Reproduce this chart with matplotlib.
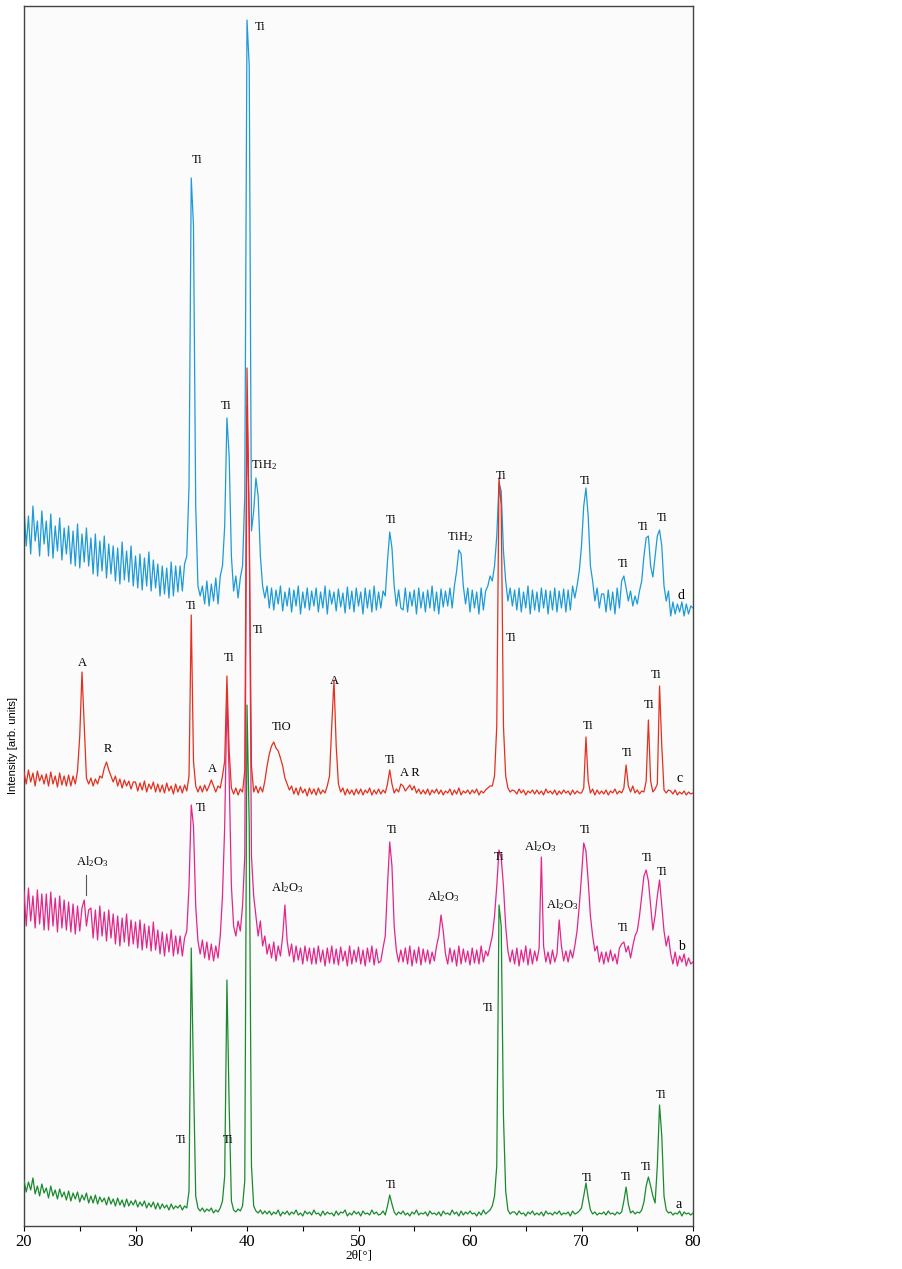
import numpy as np
import matplotlib
matplotlib.use("Agg")
from matplotlib import pyplot as plt

plt.rcParams["font.family"] = "Liberation Serif"
plt.rcParams["mathtext.fontset"] = "custom"
plt.rcParams["mathtext.rm"] = "Liberation Serif"
plt.rcParams["mathtext.it"] = "Liberation Serif:italic"

# 2theta grid, 0.2 deg steps
two_theta = np.round(np.arange(20.0, 80.01, 0.2), 1)

# intensities (one row = 2 deg), last value is 80.0
int_a = [
    46, 34, 44, 36, 48, 32, 40, 30, 42, 33,
    38, 28, 40, 30, 36, 27, 37, 29, 34, 26,
    35, 25, 33, 27, 34, 24, 31, 26, 33, 23,
    30, 23, 31, 22, 29, 24, 28, 21, 29, 22,
    27, 20, 28, 21, 26, 19, 27, 20, 25, 21,
    26, 19, 24, 20, 25, 18, 23, 19, 24, 17,
    23, 17, 22, 18, 21, 16, 22, 17, 20, 18,
    21, 16, 20, 18, 35, 278, 150, 30, 18, 15,
    18, 14, 17, 15, 18, 13, 16, 14, 18, 25,
    50, 246, 120, 25, 16, 14, 17, 15, 20, 45,
    521, 400, 60, 20, 15, 13, 16, 12, 15, 12,
    15, 11, 14, 12, 16, 10, 14, 12, 15, 11,
    14, 12, 16, 11, 13, 10, 15, 12, 14, 11,
    16, 12, 13, 10, 15, 11, 14, 12, 13, 10,
    15, 11, 14, 13, 16, 10, 13, 11, 15, 12,
    14, 10, 15, 12, 13, 11, 16, 12, 14, 11,
    12, 15, 11, 20, 31, 22, 14, 11, 14, 12,
    15, 11, 13, 10, 14, 12, 16, 11, 13, 12,
    14, 10, 15, 12, 13, 11, 14, 10, 15, 12,
    13, 11, 16, 12, 14, 10, 15, 11, 14, 12,
    15, 12, 13, 10, 14, 11, 16, 12, 14, 16,
    20, 30, 60, 321, 300, 110, 35, 16, 12, 14,
    14, 11, 15, 12, 13, 10, 14, 12, 15, 11,
    13, 11, 14, 10, 15, 12, 13, 11, 14, 12,
    15, 11, 13, 12, 14, 10, 15, 12, 13, 15,
    18, 30, 43, 28, 16, 12, 14, 11, 13, 12,
    14, 11, 15, 12, 13, 11, 14, 12, 14, 25,
    39, 22, 13, 15, 12, 14, 13, 16, 24, 40,
    49, 40, 30, 23, 60, 121, 90, 30, 16, 13,
    14, 11, 13, 12, 15, 10, 14, 12, 13, 11,
    13,
]

int_b = [
    85, 50, 88, 55, 80, 48, 86, 52, 82, 46,
    82, 46, 84, 50, 78, 44, 80, 48, 76, 46,
    74, 44, 72, 42, 70, 45, 68, 76, 50, 66,
    68, 38, 66, 36, 70, 40, 64, 35, 66, 38,
    62, 32, 60, 30, 58, 34, 62, 30, 56, 32,
    54, 28, 56, 26, 52, 28, 50, 25, 54, 26,
    46, 22, 44, 20, 42, 24, 46, 20, 40, 22,
    40, 20, 38, 45, 90, 171, 150, 70, 35, 22,
    36, 18, 34, 16, 32, 15, 30, 18, 40, 80,
    150, 279, 200, 90, 50, 40, 55, 45, 70, 120,
    570, 450, 120, 80, 60, 40, 55, 30, 40, 22,
    32, 18, 34, 15, 30, 20, 40, 71, 35, 20,
    32, 14, 30, 16, 28, 12, 30, 15, 28, 12,
    28, 12, 30, 14, 26, 10, 28, 13, 30, 12,
    27, 11, 29, 15, 25, 10, 30, 12, 26, 14,
    29, 12, 26, 10, 28, 14, 30, 11, 27, 13,
    15, 28, 40, 90, 134, 110, 50, 25, 14, 26,
    14, 28, 12, 30, 10, 26, 13, 29, 11, 27,
    14, 26, 12, 24, 15, 30, 40, 61, 45, 22,
    12, 28, 14, 26, 10, 30, 12, 27, 14, 25,
    11, 28, 13, 26, 12, 30, 14, 25, 20, 30,
    40, 60, 90, 126, 118, 90, 50, 25, 14, 26,
    12, 28, 10, 26, 14, 30, 11, 27, 12, 25,
    15, 28, 119, 30, 14, 24, 12, 26, 14, 22,
    56, 30, 15, 25, 14, 26, 18, 30, 45, 70,
    100, 133, 125, 95, 60, 40, 25, 30, 14, 24,
    12, 24, 14, 26, 15, 22, 12, 28, 32, 34,
    24, 30, 18, 30, 40, 45, 60, 80, 100, 106,
    95, 70, 46, 60, 80, 96, 70, 45, 30, 40,
    22, 12, 24, 10, 20, 14, 22, 10, 18, 12,
    14,
]

int_c = [
    34, 22, 36, 24, 33, 20, 35, 25, 31, 22,
    32, 20, 34, 22, 30, 19, 33, 21, 30, 20,
    31, 20, 30, 22, 35, 70, 134, 80, 28, 22,
    28, 20, 27, 22, 30, 28, 38, 44, 36, 30,
    24, 30, 20, 27, 18, 26, 20, 25, 17, 24,
    24, 15, 23, 16, 25, 14, 22, 17, 24, 14,
    22, 14, 21, 13, 23, 15, 20, 12, 22, 14,
    20, 13, 21, 15, 30, 191, 45, 20, 14, 20,
    14, 21, 15, 20, 26, 20, 14, 20, 18, 30,
    45, 130, 55, 18, 12, 18, 11, 17, 14, 35,
    438, 280, 40, 14, 20, 13, 19, 14, 25, 40,
    52, 60, 64, 58, 55, 48, 40, 28, 22, 16,
    20, 12, 18, 11, 19, 13, 17, 10, 18, 12,
    17, 11, 18, 12, 16, 13, 20, 30, 80, 126,
    60, 22, 14, 18, 11, 17, 12, 16, 11, 17,
    12, 17, 11, 16, 13, 18, 11, 16, 12, 17,
    12, 16, 13, 22, 36, 22, 13, 17, 14, 22,
    20, 15, 18, 21, 16, 20, 13, 17, 12, 16,
    12, 17, 11, 16, 13, 17, 12, 16, 11, 15,
    13, 17, 11, 16, 12, 18, 11, 15, 13, 16,
    12, 16, 13, 17, 11, 15, 13, 16, 18, 20,
    20, 30, 80, 328, 300, 80, 30, 18, 14, 16,
    15, 12, 17, 13, 16, 11, 15, 13, 16, 12,
    16, 12, 15, 11, 17, 13, 15, 12, 16, 11,
    15, 12, 16, 13, 15, 11, 16, 12, 15, 13,
    13, 18, 69, 25, 13, 17, 11, 16, 12, 15,
    12, 16, 11, 15, 13, 17, 12, 15, 13, 18,
    41, 20, 14, 20, 13, 16, 12, 15, 14, 25,
    86, 25, 14, 17, 22, 120, 60, 16, 13, 16,
    15, 12, 16, 11, 14, 12, 15, 11, 14, 12,
    13,
]

int_d = [
    118, 80, 110, 72, 120, 85, 105, 70, 115, 82,
    105, 70, 112, 68, 100, 75, 108, 66, 98, 72,
    100, 62, 95, 60, 102, 58, 92, 64, 98, 60,
    88, 52, 92, 50, 85, 55, 90, 48, 82, 52,
    80, 45, 78, 42, 84, 46, 75, 44, 80, 40,
    70, 38, 72, 36, 68, 40, 74, 35, 66, 38,
    62, 30, 60, 32, 58, 28, 64, 30, 60, 34,
    60, 35, 62, 70, 140, 448, 400, 120, 40, 30,
    40, 22, 45, 20, 42, 25, 48, 22, 50, 60,
    100, 208, 170, 70, 35, 50, 28, 48, 60, 130,
    606, 560, 95, 115, 148, 130, 70, 40, 28, 40,
    18, 38, 16, 36, 22, 40, 15, 34, 20, 38,
    14, 36, 20, 40, 12, 34, 18, 38, 16, 35,
    20, 38, 14, 34, 18, 40, 12, 36, 22, 34,
    15, 37, 19, 33, 13, 39, 17, 35, 14, 38,
    20, 34, 12, 38, 18, 36, 14, 40, 16, 34,
    18, 35, 30, 65, 94, 78, 40, 20, 36, 18,
    16, 38, 14, 34, 20, 36, 12, 38, 18, 34,
    14, 36, 18, 40, 15, 34, 12, 37, 19, 35,
    20, 38, 18, 40, 55, 76, 72, 40, 22, 38,
    14, 36, 18, 34, 12, 38, 16, 35, 40, 50,
    45, 60, 90, 143, 135, 75, 45, 25, 38, 20,
    36, 16, 38, 14, 34, 18, 40, 12, 36, 16,
    34, 14, 38, 18, 36, 12, 35, 16, 38, 14,
    35, 18, 37, 14, 36, 16, 40, 28, 40, 55,
    80, 120, 138, 110, 60, 45, 25, 38, 18, 32,
    32, 14, 36, 16, 34, 12, 38, 18, 45, 50,
    38, 25, 35, 20, 30, 22, 35, 45, 70, 88,
    90, 60, 49, 70, 90, 96, 80, 40, 25, 35,
    10, 24, 12, 22, 14, 24, 10, 22, 12, 20,
    18,
]

offsets = {"a": 0, "b": 250, "c": 420, "d": 600}
colors = {"a": "#1b8a2f", "b": "#e3268a", "c": "#e3301f", "d": "#1d9ad8"}

al2o3 = r"Al$_2$O$_3$"
tih2 = r"TiH$_2$"

labels_a = [("Ti", 34.1, 86), ("Ti", 38.3, 86), ("Ti", 52.9, 41), ("Ti", 61.6, 218),
            ("Ti", 70.5, 48), ("Ti", 74.0, 49), ("Ti", 75.8, 59), ("Ti", 77.1, 131)]
labels_b = [(al2o3, 26.1, 364), ("Ti", 35.9, 418), (al2o3, 43.65, 338), ("Ti", 53.0, 396),
            (al2o3, 57.6, 329), ("Ti", 62.65, 369), (al2o3, 66.3, 379), (al2o3, 68.3, 321),
            ("Ti", 70.35, 396), ("Ti", 73.7, 298), ("Ti", 75.9, 368), ("Ti", 77.25, 354)]
labels_c = [("A", 25.2, 563), ("R", 27.5, 477), ("Ti", 35.0, 620), ("A", 36.85, 457),
            ("Ti", 38.35, 568), ("Ti", 41.0, 596), ("TiO", 43.1, 499), ("A", 47.8, 545),
            ("Ti", 52.8, 466), ("A R", 54.6, 453), ("Ti", 63.65, 588), ("Ti", 70.55, 500),
            ("Ti", 74.1, 473), ("Ti", 76.1, 521), ("Ti", 76.7, 551)]
labels_d = [("Ti", 35.5, 1066), ("Ti", 41.15, 1199), ("Ti", 38.1, 820), (tih2, 41.5, 761),
            ("Ti", 52.9, 706), (tih2, 59.1, 689), ("Ti", 62.75, 750), ("Ti", 70.35, 745),
            ("Ti", 73.7, 662), ("Ti", 75.55, 699), ("Ti", 77.25, 708)]
letters = [("a", 78.7, 21), ("b", 79.0, 279), ("c", 78.8, 447), ("d", 78.9, 630)]

fig = plt.figure(figsize=(9.02, 12.69), dpi=100)
ax = fig.add_axes([24 / 902, 43 / 1269, 669 / 902, 1220 / 1269])
ax.set_facecolor("#fbfbfb")

traces = {"a": int_a, "b": int_b, "c": int_c, "d": int_d}
for z, key in enumerate(["d", "b", "c", "a"]):
    y = np.array(traces[key]) + offsets[key]
    ax.plot(two_theta, y, color=colors[key], lw=0.9, zorder=2 + z)

for lab in [labels_a, labels_b, labels_c, labels_d]:
    for txt, x, y in lab:
        ax.text(x, y, txt, fontsize=9, ha="center", va="center", zorder=10)
for txt, x, y in letters:
    ax.text(x, y, txt, fontsize=10, ha="center", va="center", zorder=10)

# marker line under the first Al2O3 label
ax.plot([25.55, 25.55], [331, 351], color="#555555", lw=0.8, zorder=10)

ax.set_xlim(20, 80)
ax.set_ylim(0, 1220)
ax.set_xticks(range(20, 81, 10))
ax.set_xticks(range(25, 80, 10), minor=True)
ax.set_yticks([])
ax.tick_params(axis="x", which="both", direction="out", length=3.5, width=0.8,
               labelsize=12, pad=2)
for sp in ax.spines.values():
    sp.set_color("#444444")
    sp.set_linewidth(1.0)

ax.set_xlabel("2θ[°]", fontsize=9.5, labelpad=0)
fig.text(13 / 902, 1 - 745 / 1269, "Intensity [arb. units]", rotation=90,
         ha="center", va="center", fontsize=8, family="Liberation Sans")

fig.savefig("out.png", dpi=100)
